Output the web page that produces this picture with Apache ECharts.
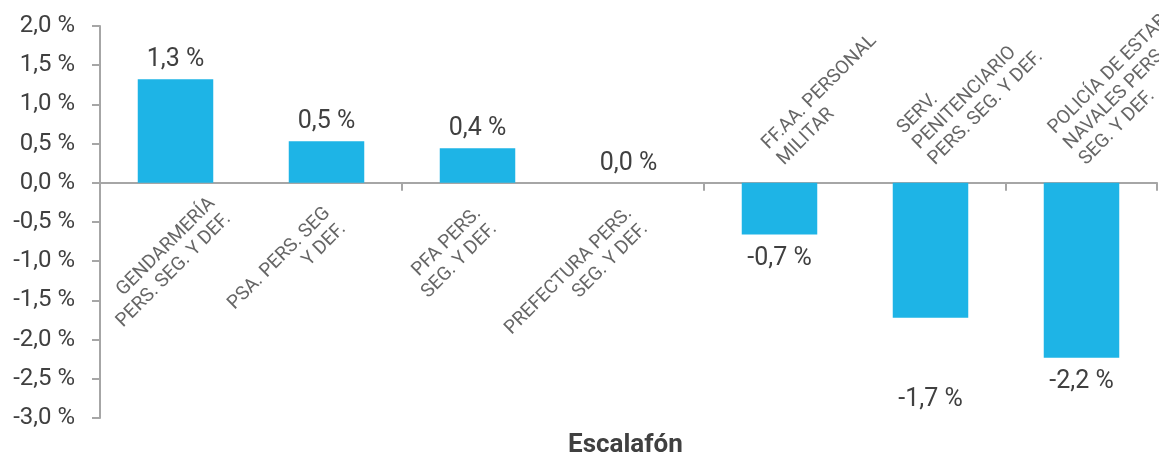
<!DOCTYPE html>
<html>
<head>
<meta charset="utf-8">
<script src="https://cdn.jsdelivr.net/npm/echarts@6/dist/echarts.min.js"></script>
<style>
html,body{margin:0;padding:0;background:#fff;}
#chart{width:1159px;height:453px;}
</style>
</head>
<body>
<div id="chart"></div>
<script>
const categories = [
  "GENDARMERÍA\nPERS. SEG. Y DEF.",
  "PSA. PERS. SEG\nY DEF.",
  "PFA PERS.\nSEG. Y DEF.",
  "PREFECTURA PERS.\nSEG. Y DEF.",
  "FF.AA. PERSONAL\nMILITAR",
  "SERV.\nPENITENCIARIO\nPERS. SEG. Y DEF.",
  "POLICÍA DE ESTAB\nNAVALES PERS.\nSEG. Y DEF."
];
const values = [1.32, 0.53, 0.44, 0.0, -0.66, -1.72, -2.23];
const axisName = "Escalafón";
const yMin = -3, yMax = 2, yStep = 0.5;

const fmt = v => (Math.round(v * 10) / 10).toFixed(1).replace('-0.0', '0.0').replace('.', ',') + ' %';
const textColor = '#404040';
const axisColor = '#a6a6a6';
const font = 'Roboto';

// label offsets are given in the rotated (45°) text frame
const rot = ([sx, sy]) => [(sx - sy) / Math.SQRT2, (sx + sy) / Math.SQRT2];

// category name labels sit on the zero line: below it for positive bars, above it for negative bars
const catLabel = (i) => {
  const neg = values[i] < 0;
  const lbl = neg
    ? {position: 'top', align: 'left', verticalAlign: 'bottom', offset: rot([9, -13])}
    : {position: 'bottom', align: 'right', verticalAlign: 'top', offset: rot(i === 0 ? [29, 10] : [-7, 20])};
  return Object.assign({show: true, rotate: 45, distance: 0, fontFamily: font, fontSize: 19,
    lineHeight: 22, color: textColor, formatter: categories[i]}, lbl);
};

const chart = echarts.init(document.getElementById('chart'), null, {renderer: 'canvas'});
chart.setOption({
  animation: false,
  backgroundColor: '#ffffff',
  title: {
    text: axisName, left: 568, top: 432, padding: 0,
    textStyle: {fontFamily: font, fontSize: 26, fontWeight: 'bold', color: textColor}
  },
  grid: {left: 100, right: 2, top: 26, bottom: 35, containLabel: false, outerBoundsMode: 'none'},
  xAxis: {
    type: 'category', data: categories,
    axisLine: {onZero: true, lineStyle: {color: axisColor, width: 2}},
    axisTick: {show: true, length: 8, lineStyle: {color: axisColor, width: 2}},
    axisLabel: {show: false}
  },
  yAxis: {
    type: 'value', min: yMin, max: yMax, interval: yStep,
    splitLine: {show: false},
    axisLine: {show: true, lineStyle: {color: axisColor, width: 2}},
    axisTick: {show: true, length: 8, lineStyle: {color: axisColor, width: 2}},
    axisLabel: {fontFamily: font, fontSize: 24, color: textColor, margin: 25, formatter: v => fmt(v)}
  },
  series: [
    {
      type: 'bar', barWidth: '50%',
      itemStyle: {color: '#1eb4e6'},
      data: values.map((v, i) => ({
        value: v,
        label: {
          position: v < 0 ? 'bottom' : 'top',
          distance: v < 0 ? 12 : 7,
          offset: i === 5 ? [0, 58] : [0, 0]
        }
      })),
      label: {
        show: true, fontFamily: font, fontSize: 25, color: textColor,
        formatter: p => fmt(p.value)
      }
    },
    {
      type: 'scatter', symbolSize: 0, silent: true,
      data: categories.map((c, i) => ({value: [i, 0], label: catLabel(i)})),
      z: 5
    }
  ]
});
</script>
</body>
</html>
